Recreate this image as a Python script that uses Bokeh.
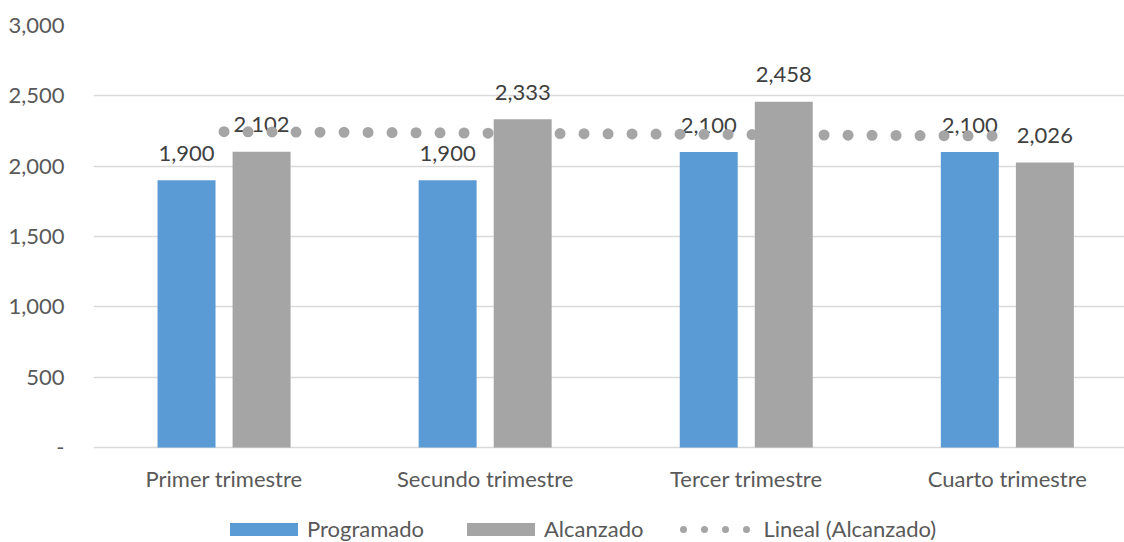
import numpy as np
from bokeh.plotting import figure
from bokeh.models import (ColumnDataSource, Range1d, Legend, LegendItem,
                          FixedTicker, NumeralTickFormatter)
from bokeh.transform import dodge
from bokeh.core.properties import value
from bokeh.embed import file_html
from bokeh.resources import INLINE

# ---- data ----
categories = ["Primer trimestre", "Secundo trimestre", "Tercer trimestre", "Cuarto trimestre"]
programado = [1900, 1900, 2100, 2100]
alcanzado = [2102, 2333, 2458, 2026]
y_ticks = [0, 500, 1000, 1500, 2000, 2500, 3000]
series_names = ["Programado", "Alcanzado", "Lineal (Alcanzado)"]

# ---- style ----
FONT = "Lato"
BLUE = "#5B9BD5"
GRAY = "#A5A5A5"
AXIS_TXT = "#595959"
LBL_TXT = "#404040"
GRID = "#D9D9D9"
FS = "22px"

W_PX, H_PX = 1124, 542
TOP, LEFT = 25, 93
PLOT_H = 422                     # pixels between 0 and 3000
Y_MAX = y_ticks[-1]
# extend the frame below zero so the category labels and legend live inside it
y_min = -(H_PX - TOP - PLOT_H) * Y_MAX / PLOT_H
CAT_PX = 261.1                   # pixels per category
x_max = 0.5 + (W_PX - LEFT) / CAT_PX

x = np.arange(1, len(categories) + 1)
slope, intercept = np.polyfit(x, np.array(alcanzado, dtype=float), 1)
trend_x = [float(x[0]), float(x[-1])]
trend_y = [slope * t + intercept for t in trend_x]

src = ColumnDataSource(dict(
    x=[int(v) for v in x],
    cat=categories,
    base=[0] * len(categories),
    prog=programado,
    alc=alcanzado,
    prog_lbl=[f"{v:,}" for v in programado],
    alc_lbl=[f"{v:,}" for v in alcanzado],
))

p = figure(width=W_PX, height=H_PX, output_backend="svg", toolbar_location=None,
           x_range=Range1d(0.5, x_max), y_range=Range1d(y_min, Y_MAX),
           min_border_left=LEFT, min_border_right=0, min_border_top=TOP,
           min_border_bottom=0)
p.outline_line_color = None
p.background_fill_color = "white"
p.border_fill_color = "white"

OFF = 0.1437
W = 0.222
r_prog = p.vbar(x=dodge("x", -OFF, range=p.x_range), top="prog", bottom="base",
                width=W, source=src, fill_color=BLUE, line_color=None)
r_alc = p.vbar(x=dodge("x", OFF, range=p.x_range), top="alc", bottom="base",
               width=W, source=src, fill_color=GRAY, line_color=None)

for col, lbl, off in (("prog", "prog_lbl", -OFF), ("alc", "alc_lbl", OFF)):
    p.text(x=dodge("x", off, range=p.x_range), y=col, text=lbl, source=src,
           text_font=value(FONT), text_font_size=FS, text_color=LBL_TXT,
           text_align="center", text_baseline="alphabetic", y_offset=-27)

p.line(x=trend_x, y=trend_y, line_color=GRAY, line_width=11,
       line_dash="0 24", line_cap="round")

# category labels (x axis)
p.text(x="x", y="base", text="cat", source=src, text_font=value(FONT),
       text_font_size=FS, text_color=AXIS_TXT, text_align="center",
       text_baseline="middle", y_offset=31)

# legend-only renderer for the trendline symbol (no visible points)
r_leg = p.line(x=trend_x, y=[np.nan, np.nan], line_color=GRAY, line_width=7,
               line_dash="0 21", line_dash_offset=15, line_cap="round")

p.xaxis.visible = False

p.yaxis.ticker = FixedTicker(ticks=y_ticks)
p.yaxis.formatter = NumeralTickFormatter(format="0,0")
p.yaxis.major_label_overrides = {0: "-"}
p.yaxis.axis_line_color = None
p.yaxis.major_tick_line_color = None
p.yaxis.minor_tick_line_color = None
p.yaxis.major_tick_out = 0
p.yaxis.major_tick_in = 0
p.yaxis.major_label_standoff = 29
p.yaxis.major_label_text_font = FONT
p.yaxis.major_label_text_font_size = FS
p.yaxis.major_label_text_color = AXIS_TXT

p.xgrid.visible = False
p.ygrid.ticker = FixedTicker(ticks=y_ticks)
p.ygrid.grid_line_color = GRID
p.ygrid.grid_line_width = 1.5

legend = Legend(items=[
    LegendItem(label=series_names[0], renderers=[r_prog]),
    LegendItem(label=series_names[1], renderers=[r_alc]),
    LegendItem(label=series_names[2], renderers=[r_leg]),
], orientation="horizontal", location=(128, 0),
    glyph_width=85, glyph_height=16, label_standoff=1, spacing=34,
    padding=0, margin=0, border_line_color=None, background_fill_alpha=0,
    label_text_font=FONT, label_text_font_size=FS, label_text_color=AXIS_TXT)
p.add_layout(legend, "center")

open("out.html", "w").write(file_html(p, INLINE))
